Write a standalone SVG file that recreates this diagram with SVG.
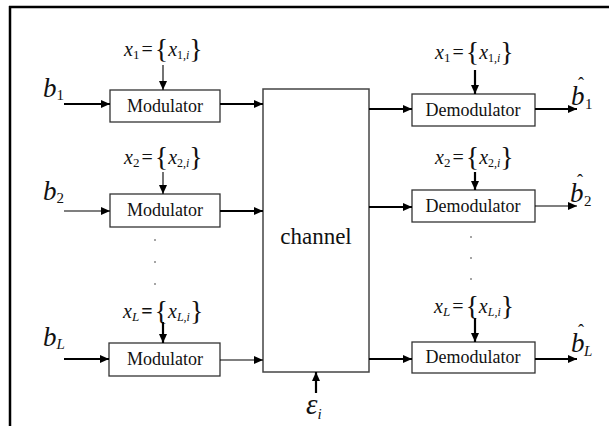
<svg xmlns="http://www.w3.org/2000/svg" width="609" height="426" viewBox="0 0 609 426">
<defs>
<marker id="ah" markerUnits="userSpaceOnUse" markerWidth="10" markerHeight="8" refX="9" refY="4" orient="auto">
<path d="M0,0 L9,4 L0,8 Z" fill="#000"/>
</marker>
<style>
text{font-family:"Liberation Serif","Times New Roman",serif;fill:#111}
.box{fill:#fff;stroke:#333;stroke-width:1.3}
.lbl{font-size:18px}
.m{font-size:20px}
.it{font-style:italic}
.up{font-style:normal}
.th{stroke:#000;stroke-width:2.2;fill:none}
.tn{stroke:#000;stroke-width:1.1;fill:none}
</style>
</defs>
<rect x="0" y="0" width="609" height="426" fill="#fff"/>
<g id="frame">
<line x1="9" y1="7" x2="609" y2="7" stroke="#000" stroke-width="2.5"/>
<line x1="10" y1="6" x2="10" y2="426" stroke="#000" stroke-width="2.5"/>
</g>

<g id="channel">
<rect class="box" x="263" y="89" width="106" height="283" style="stroke:#444;stroke-width:1.5"/>
<text x="316" y="244" text-anchor="middle" font-size="23">channel</text>
</g>

<g id="mod1"><rect class="box" x="110" y="90" width="110" height="32"/><text class="lbl" x="165" y="112" text-anchor="middle">Modulator</text></g>
<g id="mod2"><rect class="box" x="110" y="194" width="110" height="33"/><text class="lbl" x="165" y="216" text-anchor="middle">Modulator</text></g>
<g id="modL"><rect class="box" x="109" y="343" width="111" height="33"/><text class="lbl" x="165" y="365" text-anchor="middle">Modulator</text></g>

<g id="demod1"><rect class="box" x="412" y="94" width="123" height="32"/><text class="lbl" x="473" y="116" text-anchor="middle">Demodulator</text></g>
<g id="demod2"><rect class="box" x="412" y="190" width="123" height="32"/><text class="lbl" x="473" y="212" text-anchor="middle">Demodulator</text></g>
<g id="demodL"><rect class="box" x="412" y="342" width="123" height="31"/><text class="lbl" x="473" y="363" text-anchor="middle">Demodulator</text></g>

<g id="labels">
<text class="it" x="43" y="97" font-size="27">b<tspan class="up" font-size="15" dy="3">1</tspan></text>
<text class="it" x="43" y="200" font-size="27">b<tspan class="up" font-size="15" dy="3">2</tspan></text>
<text class="it" x="43" y="346" font-size="27">b<tspan font-size="15" dy="3">L</tspan></text>
<text class="it" x="571" y="105" font-size="27">b<tspan class="up" x="578" dy="-15" font-size="18">ˆ</tspan><tspan class="up" x="585" dy="19" font-size="15">1</tspan></text>
<text class="it" x="570" y="202" font-size="27">b<tspan class="up" x="577" dy="-15" font-size="18">ˆ</tspan><tspan class="up" x="584" dy="19" font-size="15">2</tspan></text>
<text class="it" x="571" y="352" font-size="27">b<tspan class="up" x="578" dy="-15" font-size="18">ˆ</tspan><tspan x="584" dy="19" font-size="15">L</tspan></text>
<text class="m" x="124" y="56"><tspan class="it">x</tspan><tspan font-size="13" dy="3">1</tspan><tspan dy="-3" dx="2">=</tspan><tspan font-size="28" dy="2" dx="2">{</tspan><tspan class="it" dy="-2">x</tspan><tspan font-size="12" dy="3">1,<tspan class="it">i</tspan></tspan><tspan font-size="28" dy="-1">}</tspan></text>
<text class="m" x="124" y="164"><tspan class="it">x</tspan><tspan font-size="13" dy="3">2</tspan><tspan dy="-3" dx="2">=</tspan><tspan font-size="28" dy="2" dx="2">{</tspan><tspan class="it" dy="-2">x</tspan><tspan font-size="12" dy="3">2,<tspan class="it">i</tspan></tspan><tspan font-size="28" dy="-1">}</tspan></text>
<text class="m" x="123" y="318"><tspan class="it">x</tspan><tspan font-size="13" dy="3" class="it">L</tspan><tspan dy="-3" dx="2" font-weight="bold">=</tspan><tspan font-size="28" dy="2" dx="2">{</tspan><tspan class="it" dy="-2">x</tspan><tspan font-size="12" dy="3" class="it">L,i</tspan><tspan font-size="28" dy="-1">}</tspan></text>
<text class="m" x="435" y="59"><tspan class="it">x</tspan><tspan font-size="13" dy="3">1</tspan><tspan dy="-3" dx="2">=</tspan><tspan font-size="28" dy="2" dx="2">{</tspan><tspan class="it" dy="-2">x</tspan><tspan font-size="12" dy="3">1,<tspan class="it">i</tspan></tspan><tspan font-size="28" dy="-1">}</tspan></text>
<text class="m" x="435" y="164"><tspan class="it">x</tspan><tspan font-size="13" dy="3">2</tspan><tspan dy="-3" dx="2">=</tspan><tspan font-size="28" dy="2" dx="2">{</tspan><tspan class="it" dy="-2">x</tspan><tspan font-size="12" dy="3">2,<tspan class="it">i</tspan></tspan><tspan font-size="28" dy="-1">}</tspan></text>
<text class="m" x="434" y="313"><tspan class="it">x</tspan><tspan font-size="13" dy="3" class="it">L</tspan><tspan dy="-3" dx="2">=</tspan><tspan font-size="28" dy="2" dx="2">{</tspan><tspan class="it" dy="-2">x</tspan><tspan font-size="12" dy="3" class="it">L,i</tspan><tspan font-size="28" dy="-1">}</tspan></text>
<text class="it" x="306" y="414" font-size="29">ε<tspan font-size="15" dy="5">i</tspan></text>
<g fill="#333">
<circle cx="155" cy="240" r="0.8"/><circle cx="155" cy="262" r="0.8"/><circle cx="155" cy="284" r="0.8"/>
<circle cx="471" cy="237" r="0.8"/><circle cx="471" cy="258" r="0.8"/><circle cx="471" cy="279" r="0.8"/>
</g>
</g>

<g id="connectors">
<line class="th" x1="64" y1="104" x2="110" y2="104" marker-end="url(#ah)"/>
<line class="tn" x1="163" y1="65" x2="163" y2="90" marker-end="url(#ah)"/>
<line class="th" x1="220" y1="104" x2="263" y2="104" marker-end="url(#ah)"/>
<line class="th" x1="369" y1="109" x2="412" y2="109" marker-end="url(#ah)"/>
<line class="th" x1="475" y1="70" x2="475" y2="94" marker-end="url(#ah)"/>
<line class="th" x1="535" y1="109" x2="577" y2="109" marker-end="url(#ah)"/>
<line class="tn" x1="64" y1="211" x2="110" y2="211" marker-end="url(#ah)"/>
<line class="tn" x1="163" y1="172" x2="163" y2="194" marker-end="url(#ah)"/>
<line class="th" x1="220" y1="211" x2="263" y2="211" marker-end="url(#ah)"/>
<line class="th" x1="369" y1="207" x2="412" y2="207" marker-end="url(#ah)"/>
<line class="th" x1="475" y1="172" x2="475" y2="190" marker-end="url(#ah)"/>
<line class="tn" x1="535" y1="206" x2="577" y2="206" marker-end="url(#ah)"/>
<line class="th" x1="64" y1="359" x2="109" y2="359" marker-end="url(#ah)"/>
<line class="th" x1="163" y1="322" x2="163" y2="343" marker-end="url(#ah)"/>
<line class="tn" x1="220" y1="360" x2="263" y2="360" marker-end="url(#ah)"/>
<line class="th" x1="369" y1="359" x2="412" y2="359" marker-end="url(#ah)"/>
<line class="th" x1="475" y1="318" x2="475" y2="342" marker-end="url(#ah)"/>
<line class="th" x1="535" y1="359" x2="577" y2="359" marker-end="url(#ah)"/>
<line class="th" x1="316" y1="393" x2="316" y2="372" marker-end="url(#ah)"/>
</g>
</svg>
